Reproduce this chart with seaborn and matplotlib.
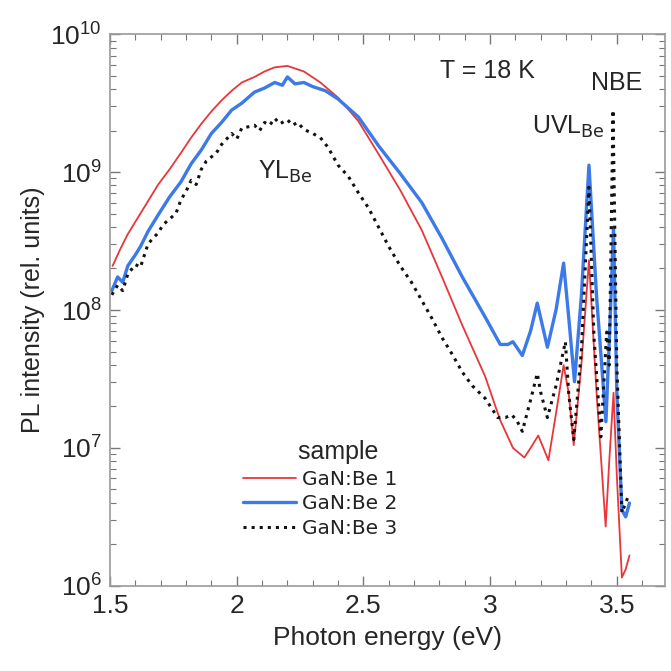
import numpy as np
import pandas as pd
import seaborn as sns
import matplotlib
matplotlib.use("Agg")
import matplotlib.pyplot as plt
from matplotlib.ticker import LogLocator, MultipleLocator, NullFormatter

# photon energy (eV) and log10 PL intensity
x1 = [1.51, 1.54, 1.57, 1.61, 1.65, 1.69, 1.735, 1.78, 1.82, 1.86, 1.90, 1.94, 1.98, 2.02,
      2.07, 2.11, 2.15, 2.20, 2.265, 2.33, 2.40, 2.48, 2.56, 2.645, 2.73, 2.81, 2.89, 2.98,
      3.04, 3.09, 3.135, 3.16, 3.19, 3.23, 3.26, 3.29, 3.31, 3.33, 3.36, 3.39, 3.42, 3.456,
      3.47, 3.487, 3.50, 3.52, 3.535, 3.55]
y1 = [8.32, 8.44, 8.55, 8.67, 8.79, 8.91, 9.02, 9.14, 9.25, 9.35, 9.44, 9.52, 9.59, 9.65,
      9.69, 9.73, 9.76, 9.77, 9.73, 9.65, 9.54, 9.37, 9.13, 8.87, 8.58, 8.24, 7.89, 7.52,
      7.20, 7.00, 6.93, 7.00, 7.09, 6.91, 7.25, 7.60, 7.40, 7.02, 7.60, 8.36, 7.40, 6.43,
      6.90, 7.40, 6.80, 6.06, 6.12, 6.22]

x2 = [1.507, 1.53, 1.55, 1.57, 1.60, 1.62, 1.65, 1.69, 1.735, 1.78, 1.82, 1.86, 1.90, 1.94,
      1.98, 2.02, 2.07, 2.11, 2.15, 2.18, 2.20, 2.23, 2.265, 2.30, 2.35, 2.40, 2.48, 2.56,
      2.645, 2.73, 2.81, 2.89, 2.98, 3.04, 3.07, 3.09, 3.127, 3.16, 3.186, 3.226, 3.26, 3.29,
      3.31, 3.333, 3.36, 3.39, 3.42, 3.457, 3.473, 3.487, 3.50, 3.52, 3.535, 3.55]
y2 = [8.14, 8.24, 8.20, 8.32, 8.40, 8.46, 8.57, 8.69, 8.82, 8.93, 9.06, 9.16, 9.28, 9.36,
      9.45, 9.50, 9.58, 9.61, 9.65, 9.63, 9.69, 9.64, 9.65, 9.62, 9.59, 9.53, 9.40, 9.19,
      8.99, 8.78, 8.52, 8.24, 7.95, 7.75, 7.75, 7.77, 7.67, 7.85, 8.05, 7.73, 8.00, 8.34,
      7.95, 7.48, 8.10, 9.05, 8.10, 7.19, 7.90, 8.60, 7.40, 6.55, 6.50, 6.60]

x3 = [1.507, 1.53, 1.55, 1.57, 1.60, 1.62, 1.65, 1.69, 1.71, 1.735, 1.76, 1.78, 1.80, 1.82,
      1.84, 1.86, 1.88, 1.90, 1.92, 1.94, 1.96, 1.98, 2.00, 2.02, 2.05, 2.07, 2.09, 2.11,
      2.13, 2.15, 2.17, 2.20, 2.22, 2.24, 2.265, 2.30, 2.33, 2.36, 2.40, 2.44, 2.48, 2.52,
      2.56, 2.60, 2.645, 2.69, 2.73, 2.77, 2.81, 2.85, 2.89, 2.93, 2.98, 3.03, 3.06, 3.085,
      3.105, 3.127, 3.16, 3.186, 3.20, 3.226, 3.26, 3.297, 3.31, 3.33, 3.36, 3.39, 3.41,
      3.437, 3.46, 3.47, 3.485, 3.50, 3.52, 3.535, 3.545]
y3 = [8.11, 8.18, 8.14, 8.26, 8.33, 8.31, 8.48, 8.56, 8.62, 8.66, 8.70, 8.80, 8.86, 8.94,
      8.91, 9.02, 9.08, 9.11, 9.14, 9.20, 9.24, 9.28, 9.24, 9.32, 9.33, 9.34, 9.30, 9.36,
      9.34, 9.39, 9.35, 9.38, 9.34, 9.36, 9.31, 9.28, 9.25, 9.18, 9.05, 8.97, 8.85, 8.74,
      8.60, 8.46, 8.32, 8.20, 8.07, 7.94, 7.80, 7.68, 7.55, 7.45, 7.36, 7.22, 7.22, 7.24,
      7.20, 7.12, 7.35, 7.54, 7.40, 7.22, 7.45, 7.77, 7.40, 7.06, 7.70, 8.89, 7.80, 7.08,
      7.84, 7.60, 9.45, 7.60, 6.53, 6.60, 6.65]

samples = ["GaN:Be 1", "GaN:Be 2", "GaN:Be 3"]

df = pd.concat([
    pd.DataFrame({"E": x1, "I": 10 ** np.array(y1), "sample": samples[0]}),
    pd.DataFrame({"E": x2, "I": 10 ** np.array(y2), "sample": samples[1]}),
    pd.DataFrame({"E": x3, "I": 10 ** np.array(y3), "sample": samples[2]}),
])

sns.set_style("ticks")
plt.rcParams["font.family"] = ["Liberation Sans", "DejaVu Sans"]

fig = plt.figure(figsize=(6.71, 6.71), dpi=100)
ax = fig.add_axes([0.164, 0.127, 0.827, 0.822])

colors = {"GaN:Be 1": "#e8363a", "GaN:Be 2": "#3b7ae8", "GaN:Be 3": "#111111"}
widths = {"GaN:Be 1": 1.3, "GaN:Be 2": 2.4, "GaN:Be 3": 2.2}
styles = {"GaN:Be 1": "-", "GaN:Be 2": "-", "GaN:Be 3": ":"}

for s in samples:
    d = df[df["sample"] == s]
    sns.lineplot(data=d, x="E", y="I", ax=ax, color=colors[s], lw=widths[s],
                 ls=styles[s], label=s, sort=False)

ax.set_yscale("log")
ax.set_xlim(1.5, 3.69)
ax.set_ylim(1e6, 1e10)

ax.xaxis.set_minor_locator(MultipleLocator(0.1))
ax.set_xticks([1.5, 2, 2.5, 3, 3.5])
ax.set_xticklabels(["1.5", "2", "2.5", "3", "3.5"])
ax.yaxis.set_major_locator(LogLocator(base=10, numticks=10))
ax.yaxis.set_minor_locator(LogLocator(base=10, subs=np.arange(2, 10), numticks=20))
ax.yaxis.set_minor_formatter(NullFormatter())

ax.tick_params(which="both", direction="in", top=True, right=True, color="#777777")
ax.tick_params(which="major", length=7, width=1, labelsize=19, pad=6)
ax.tick_params(which="minor", length=4, width=0.8)
for sp in ax.spines.values():
    sp.set_color("#9a9a9a")
    sp.set_linewidth(1.2)

ax.set_xlabel("Photon energy (eV)", fontsize=19, labelpad=6)
ax.set_ylabel("PL intensity (rel. units)", fontsize=18, labelpad=4)

ax.text(2.99, 10 ** 9.73, "T = 18 K", fontsize=18, ha="center", va="center")
ax.text(3.5, 10 ** 9.645, "NBE", fontsize=18, ha="center", va="center")
ax.text(3.31, 10 ** 9.33, "UVL$_{\\mathrm{Be}}$", fontsize=18, ha="center", va="center")
ax.text(2.19, 10 ** 9.0, "YL$_{\\mathrm{Be}}$", fontsize=18, ha="center", va="center")

leg = ax.legend(title="     sample", loc="upper left", bbox_to_anchor=(0.215, 0.29),
                frameon=False, fontsize=14.5, title_fontsize=18, handlelength=2.6,
                handletextpad=0.3, labelspacing=0.28, borderpad=0.2)
for t in leg.get_texts():
    t.set_family("DejaVu Sans")
    t.set_color("#222222")

fig.savefig("out.png", dpi=100)
